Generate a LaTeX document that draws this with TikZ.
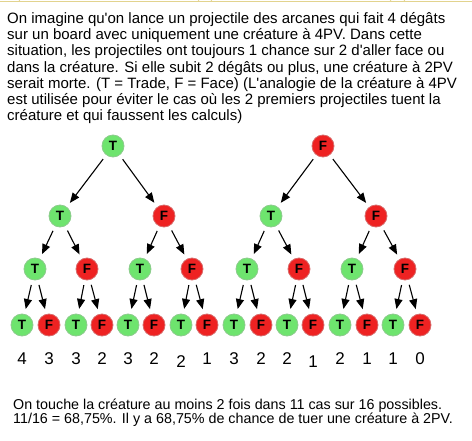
\documentclass[tikz,border=0pt]{standalone}
\usepackage{fontspec}
\newfontfamily\arialf{Liberation Sans}
\usetikzlibrary{arrows.meta}
\definecolor{tgreen}{HTML}{6EE46E}
\definecolor{tgreenb}{HTML}{8CCB8C}
\definecolor{fred}{HTML}{EE2222}
\definecolor{fredb}{HTML}{D86A6A}
\definecolor{tabline}{HTML}{E2D38E}
\begin{document}
\begin{tikzpicture}[x=1pt,y=-1pt,
  ball/.style={circle,minimum size=22pt,inner sep=0pt,line width=0.8pt,
    font=\arialf\fontsize{13.5}{13.5}\selectfont\bfseries},
  tn/.style={ball,fill=tgreen,draw=tgreenb},
  fn/.style={ball,fill=fred,draw=fredb},
  arr/.style={-{Triangle[length=10pt,width=8pt]},line width=1.1pt,shorten <=5pt,shorten >=5pt},
  txt/.style={anchor=base west,inner sep=0pt,font=\arialf\fontsize{15}{16}\selectfont},
  btxt/.style={anchor=base west,inner sep=0pt,font=\arialf\fontsize{14.3}{14.3}\selectfont},
  num/.style={anchor=base,inner sep=0pt,font=\arialf\fontsize{17}{17}\selectfont}]
\useasboundingbox (0,0) rectangle (472,440);
% tab outlines at top
\draw[tabline,line width=0.8pt] (0,1.5) -- (472,1.5);
\foreach \a/\b in {18/200,210/392,403/480}
  \draw[tabline,line width=0.8pt] (\a,-2) -- (\a+2,1.5) (\b,-2) -- (\b-2,1.5);
% top text
\node[txt] (l1) at (7,23.5) {On imagine qu'on lance un projectile des arcanes qui fait 4 dégâts};
\node[txt] (l2) at (7,39.7) {sur un board avec uniquement une créature à 4PV. Dans cette};
\node[txt] (l3) at (7,55.9) {situation, les projectiles ont toujours 1 chance sur 2 d'aller face ou};
\node[txt] (l4) at (7,72.1) {dans la créature. Si elle subit 2 dégâts ou plus, une créature à 2PV};
\node[txt] (l5) at (7,88.3) {serait morte. (T = Trade, F = Face) (L'analogie de la créature à 4PV};
\node[txt] (l6) at (7,104.5) {est utilisée pour éviter le cas où les 2 premiers projectiles tuent la};
\node[txt] (l7) at (7,120.7) {créature et qui faussent les calculs)};
% level 0
\node[tn] (a1) at (113,146) {T};
\node[fn] (a2) at (323,146) {F};
% level 1
\node[tn] (b1) at (60,216) {T};
\node[fn] (b2) at (164,216) {F};
\node[tn] (b3) at (271,216) {T};
\node[fn] (b4) at (376,216) {F};
% level 2
\foreach \i/\x in {1/35,3/140,5/247,7/352} \node[tn] (c\i) at (\x,269) {T};
\foreach \i/\x in {2/87,4/192,6/299,8/405} \node[fn] (c\i) at (\x,269) {F};
% level 3
\foreach \i/\x in {1/22,3/76,5/128,7/181,9/234,11/287,13/340,15/393} \node[tn] (d\i) at (\x,325) {T};
\foreach \i/\x in {2/49,4/102,6/154,8/207,10/261,12/313,14/367,16/420} \node[fn] (d\i) at (\x,325) {F};
% arrows
\draw[arr] (a1) -- (b1); \draw[arr] (a1) -- (b2);
\draw[arr] (a2) -- (b3); \draw[arr] (a2) -- (b4);
\foreach \p in {1,...,4}{
  \pgfmathtruncatemacro{\ca}{2*\p-1}\pgfmathtruncatemacro{\cb}{2*\p}
  \draw[arr] (b\p) -- (c\ca); \draw[arr] (b\p) -- (c\cb);}
\foreach \p in {1,...,8}{
  \pgfmathtruncatemacro{\ca}{2*\p-1}\pgfmathtruncatemacro{\cb}{2*\p}
  \draw[arr] (c\p) -- (d\ca); \draw[arr] (c\p) -- (d\cb);}
% numbers
\foreach \i/\v/\y in {1/4/364,2/3/364,3/3/364,4/2/364,5/3/364,6/2/364,7/2/367,8/1/364,
  9/3/364,10/2/364,11/2/364,12/1/367,13/2/364,14/1/364,15/1/364,16/0/364}
  \node[num] (n\i) at (d\i.center |- 0,\y) {\v};
% bottom text
\node[btxt] (m1) at (13,409) {On touche la créature au moins 2 fois dans 11 cas sur 16 possibles.};
\node[btxt] (m2) at (13,423.5) {11/16 = 68,75\%. Il y a 68,75\% de chance de tuer une créature à 2PV.};
\end{tikzpicture}
\end{document}
